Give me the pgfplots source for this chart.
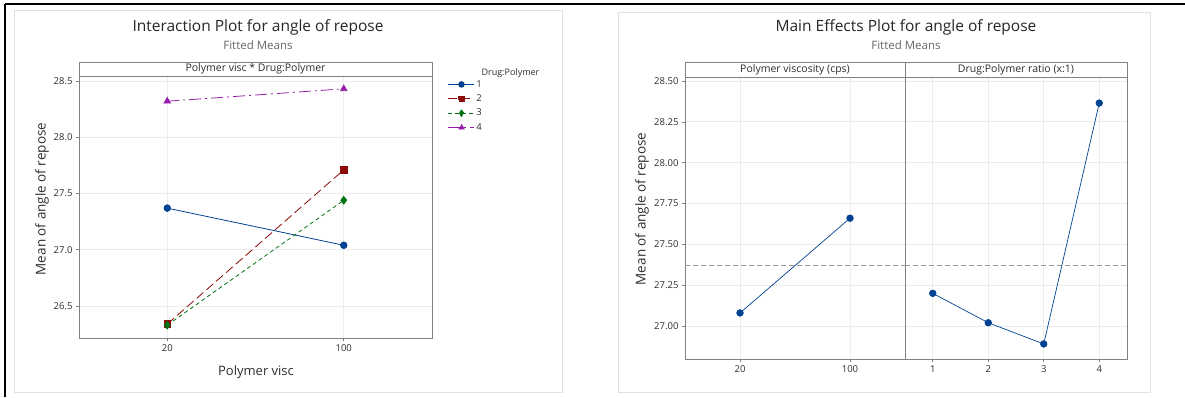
\documentclass[border=0pt]{standalone}
\usepackage{pgfplots}
\pgfplotsset{compat=1.18}
\usepackage{fontspec}
\setmainfont{Open Sans}
\definecolor{mblue}{RGB}{0,66,146}
\definecolor{mred}{RGB}{140,10,10}
\definecolor{mgreen}{RGB}{0,115,20}
\definecolor{mpurple}{RGB}{150,30,170}
\definecolor{frame}{RGB}{128,128,128}
\definecolor{gridc}{RGB}{236,236,236}
\definecolor{txt}{RGB}{45,45,45}
\definecolor{panel}{RGB}{225,225,225}
\pgfplotsset{mstyle/.style={
  scale only axis,
  axis line style={frame,line width=0.8pt},
  tick style={frame,line width=0.6pt},
  tick align=outside, major tick length=3pt,
  tick pos=left,
  grid=major, grid style={gridc,line width=0.7pt},
  ticklabel style={font=\fontsize{9.5}{10}\selectfont, text=txt},
  /pgf/number format/assume math mode=true,
  clip=false,
}}
\begin{document}
\begin{tikzpicture}[x=1pt,y=1pt]
\path[use as bounding box] (0,0) rectangle (1185,397);
% outer frames
\draw[black,line width=1.1pt] (5,393) -- (1185,393);
\draw[black,line width=1.1pt] (5,393) -- (5,0);
\draw[panel,line width=0.8pt] (14,387) rectangle (562,5);
\draw[panel,line width=0.8pt] (618,385) rectangle (1150,5);

% ---------------- Interaction plot ----------------
\begin{axis}[mstyle,
  at={(79pt,59pt)}, anchor=south west,
  width=353pt, height=262pt,
  xmin=-0.5, xmax=1.5, ymin=26.216, ymax=28.544,
  xtick={0,1}, xticklabels={20,100},
  ytick={26.5,27.0,27.5,28.0,28.5},
  yticklabel style={/pgf/number format/fixed,/pgf/number format/fixed zerofill,/pgf/number format/precision=1},
  legend style={at={(axis description cs:1.045,0.99)}, anchor=north west, draw=none, fill=none,
    font=\fontsize{9.5}{10}\selectfont, text=txt, row sep=3pt, inner sep=0pt,
    nodes={inner sep=1.5pt}},
  legend cell align=left,
  legend image code/.code={\draw[mark repeat=2,mark phase=2,mark options={scale=0.85}] plot coordinates {(0pt,0pt) (13pt,0pt) (26pt,0pt)};},
]
\addplot[mblue, line width=0.8pt, mark=*, mark size=3.3pt, mark options={solid,fill=mblue}] coordinates {(0,27.37) (1,27.04)};
\addlegendentry{1}
\addplot[mred, line width=0.8pt, dash pattern=on 9pt off 4pt, mark=square*, mark size=3.2pt, mark options={solid,fill=mred}] coordinates {(0,26.34) (1,27.71)};
\addlegendentry{2}
\addplot[mgreen, line width=0.8pt, dash pattern=on 4pt off 3pt, mark=diamond*, mark size=3.9pt, mark options={solid,fill=mgreen}] coordinates {(0,26.33) (1,27.44)};
\addlegendentry{3}
\addplot[mpurple, line width=0.8pt, dash pattern=on 12pt off 4pt on 2pt off 4pt, mark=triangle*, mark size=3.7pt, mark options={solid,fill=mpurple}] coordinates {(0,28.32) (1,28.43)};
\addlegendentry{4}
\end{axis}
\draw[frame,line width=0.8pt,fill=white] (79,335) rectangle (432,321);
\node[font=\fontsize{10.5}{12}\selectfont, text=txt] at (255.5,328) {Polymer visc * Drug:Polymer};
\node[font=\fontsize{9}{10}\selectfont, text=txt, anchor=west] at (478,324) {Drug:Polymer};
\node[font=\fontsize{15.5}{17}\selectfont, text=black!85] at (258,370) {Interaction Plot for angle of repose};
\node[font=\fontsize{11.5}{13}\selectfont, text=black!60] at (258,352) {Fitted Means};
\node[font=\fontsize{13.5}{15}\selectfont, text=txt, rotate=90] at (42,198) {Mean of angle of repose};
\node[font=\fontsize{13}{15}\selectfont, text=txt] at (256,25) {Polymer visc};

% ---------------- Main effects plot ----------------
\begin{axis}[mstyle,
  at={(685pt,38pt)}, anchor=south west,
  width=220pt, height=282pt,
  xmin=-0.5, xmax=1.5, ymin=26.798, ymax=28.5245,
  xtick={0,1}, xticklabels={20,100},
  ytick={27.00,27.25,27.50,27.75,28.00,28.25,28.50},
  yticklabel style={/pgf/number format/fixed,/pgf/number format/fixed zerofill,/pgf/number format/precision=2},
]
\addplot[frame!80, line width=0.7pt, dash pattern=on 5pt off 3pt] coordinates {(-0.5,27.37) (1.5,27.37)};
\addplot[mblue, line width=0.7pt, mark=*, mark size=3.3pt, mark options={fill=mblue}] coordinates {(0,27.08) (1,27.66)};
\end{axis}
\begin{axis}[mstyle,
  at={(905pt,38pt)}, anchor=south west,
  width=222pt, height=282pt,
  xmin=0.5, xmax=4.5, ymin=26.798, ymax=28.5245,
  xtick={1,2,3,4},
  ytick={27.00,27.25,27.50,27.75,28.00,28.25,28.50},
  yticklabels={}, ytick style={draw=none},
]
\addplot[frame!80, line width=0.7pt, dash pattern=on 5pt off 3pt] coordinates {(0.5,27.37) (4.5,27.37)};
\addplot[mblue, line width=0.7pt, mark=*, mark size=3.3pt, mark options={fill=mblue}] coordinates {(1,27.20) (2,27.02) (3,26.89) (4,28.365)};
\end{axis}
\draw[frame,line width=0.8pt,fill=white] (685,335) rectangle (1127,320);
\draw[frame,line width=0.8pt] (905,335) -- (905,320);
\node[font=\fontsize{10.5}{12}\selectfont, text=txt] at (795,327.5) {Polymer viscosity (cps)};
\node[font=\fontsize{10.5}{12}\selectfont, text=txt] at (1016,327.5) {Drug:Polymer ratio (x:1)};
\node[font=\fontsize{15.5}{17}\selectfont, text=black!85] at (906,370) {Main Effects Plot for angle of repose};
\node[font=\fontsize{11.5}{13}\selectfont, text=black!60] at (906,352) {Fitted Means};
\node[font=\fontsize{13.5}{15}\selectfont, text=txt, rotate=90] at (642,188) {Mean of angle of repose};
\fill[white] (1178,0) rectangle (1185,392.4);
\end{tikzpicture}
\end{document}
